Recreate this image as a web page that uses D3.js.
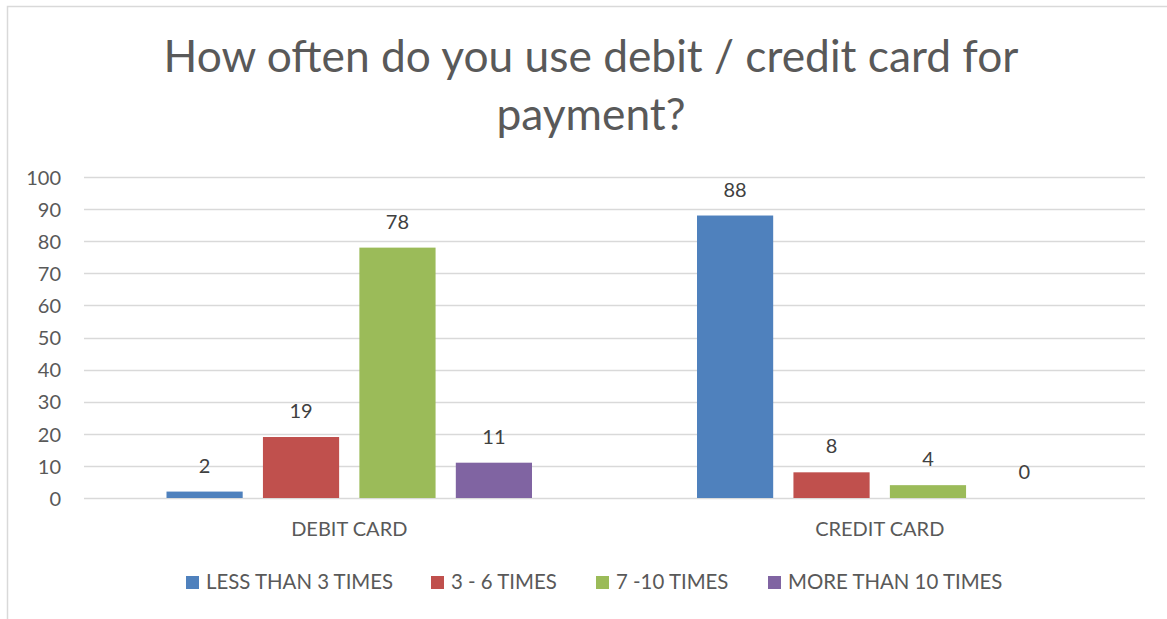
<!DOCTYPE html>
<html>
<head>
<meta charset="utf-8">
<script src="https://cdn.jsdelivr.net/npm/d3@7"></script>
<style>
  html, body { margin: 0; padding: 0; background: #fff; }
  svg { display: block; font-family: Lato, "Open Sans", sans-serif; }
</style>
</head>
<body>
<svg id="chart" width="1167" height="619"></svg>
<script>
// Survey answers: how often respondents pay by card
const categories = ["DEBIT CARD", "CREDIT CARD"];
const seriesNames = ["LESS THAN 3 TIMES", "3 - 6 TIMES", "7 -10 TIMES", "MORE THAN 10 TIMES"];
const debitValues = [2, 19, 78, 11];
const creditValues = [88, 8, 4, 0];
const yTicks = [0, 10, 20, 30, 40, 50, 60, 70, 80, 90, 100];
const titleLines = ["How often do you use debit / credit card for", "payment?"];
const colors = ["#4f81bd", "#c0504d", "#9bbb59", "#8064a2"];

const valuesByCategory = [debitValues, creditValues];
const data = categories.map((c, i) => ({
  category: c,
  values: seriesNames.map((s, j) => ({ series: s, value: valuesByCategory[i][j] }))
}));

const svg = d3.select("#chart");
const W = 1167, H = 619;
const FONT = "Lato, 'Open Sans', sans-serif";

// chart frame
svg.append("path")
  .attr("d", `M7.5,${H + 2} V6.5 H${W + 2}`)
  .attr("fill", "none")
  .attr("stroke", "#d9d9d9")
  .attr("stroke-width", 1.5);

// title
const title = svg.append("text")
  .attr("text-anchor", "middle")
  .attr("fill", "#595959")
  .style("font-size", "44.3px");
titleLines.forEach((t, i) => {
  title.append("tspan").attr("x", 591).attr("y", 72 + i * 58).text(t);
});

const plot = { left: 84, right: 1145, top: 177, bottom: 498 };

const x0 = d3.scaleBand()
  .domain(categories)
  .range([plot.left, plot.right])
  .paddingInner(0)
  .paddingOuter(0);

const groupPad = 82.5;
const x1 = d3.scaleBand()
  .domain(seriesNames)
  .range([groupPad, x0.bandwidth() - groupPad])
  .paddingInner(0.21)
  .paddingOuter(0);

const y = d3.scaleLinear().domain([0, 100]).range([plot.bottom, plot.top]);

// gridlines
svg.append("g")
  .selectAll("line")
  .data(yTicks)
  .join("line")
  .attr("x1", plot.left)
  .attr("x2", plot.right)
  .attr("y1", d => Math.round(y(d)) + 0.5)
  .attr("y2", d => Math.round(y(d)) + 0.5)
  .attr("stroke", "#d9d9d9")
  .attr("stroke-width", 1.5);

// y axis labels
const yAxis = d3.axisLeft(y).tickValues(yTicks).tickSize(0).tickPadding(0);
const yg = svg.append("g")
  .attr("transform", `translate(61,0)`)
  .call(yAxis);
yg.select(".domain").remove();
yg.selectAll("text")
  .attr("fill", "#595959")
  .attr("dy", "0.36em")
  .style("font-size", "20px")
  .style("font-family", FONT);

// bars
const groups = svg.append("g")
  .selectAll("g")
  .data(data)
  .join("g")
  .attr("transform", d => `translate(${x0(d.category)},0)`);

groups.selectAll("rect")
  .data(d => d.values)
  .join("rect")
  .attr("x", d => x1(d.series))
  .attr("width", x1.bandwidth())
  .attr("y", d => y(d.value))
  .attr("height", d => y(0) - y(d.value))
  .attr("fill", (d, i) => colors[i]);

// value labels
groups.selectAll("text")
  .data(d => d.values)
  .join("text")
  .attr("x", d => x1(d.series) + x1.bandwidth() / 2)
  .attr("y", d => y(d.value) - 19)
  .attr("text-anchor", "middle")
  .attr("fill", "#404040")
  .style("font-size", "20px")
  .text(d => d.value);

// category labels
const xAxis = d3.axisBottom(x0).tickSize(0).tickPadding(0);
const xg = svg.append("g")
  .attr("transform", `translate(0,536)`)
  .call(xAxis);
xg.select(".domain").remove();
xg.selectAll("text")
  .attr("fill", "#595959")
  .attr("y", 0)
  .attr("dy", 0)
  .style("font-size", "20px")
  .style("font-family", FONT);

// legend
const legendX = [186, 431, 596, 768];
const legend = svg.append("g")
  .selectAll("g")
  .data(seriesNames)
  .join("g")
  .attr("transform", (d, i) => `translate(${legendX[i]},576)`);
legend.append("rect")
  .attr("width", 13)
  .attr("height", 13)
  .attr("fill", (d, i) => colors[i]);
legend.append("text")
  .attr("x", 20)
  .attr("y", 13)
  .attr("fill", "#595959")
  .style("font-size", "20.4px")
  .text(d => d);
</script>
</body>
</html>
